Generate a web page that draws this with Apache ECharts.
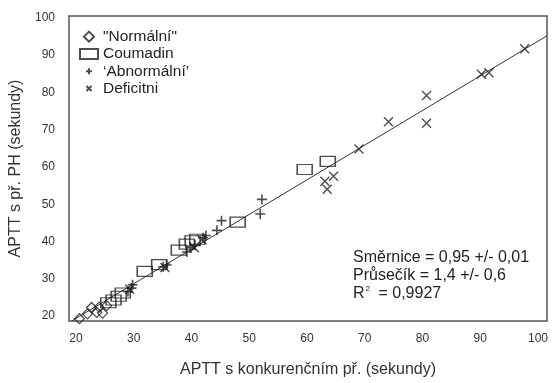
<!DOCTYPE html>
<html><head><meta charset="utf-8">
<script src="https://cdn.jsdelivr.net/npm/echarts@6/dist/echarts.min.js"></script>
<style>html,body{margin:0;padding:0;background:#fff}#c{width:557px;height:383px}</style>
</head><body><div id="c"></div>
<script>
const tickValues = [20, 30, 40, 50, 60, 70, 80, 90, 100];
const normalni = [[20.6,19.3],[22.0,20.6],[22.7,22.3],[23.6,21.0],[24.6,20.8],[25.3,22.8],[24.0,22.4]];
const coumadin = [[25.6,23.6],[26.5,24.3],[27.4,25.3],[28.1,26.2],[31.9,32.0],[34.4,33.8],[37.8,37.7],[39.2,39.3],[40.2,40.2],[41.0,40.6],[48.0,45.2],[59.6,59.3],[63.6,61.5]];
const abnormalni = [[29.0,26.6],[29.6,27.5],[29.8,28.4],[35.1,33.2],[35.7,33.7],[39.2,37.2],[39.8,38.5],[40.6,39.0],[42.0,41.0],[42.5,41.6],[44.4,43.0],[45.2,45.6],[51.9,47.4],[52.2,51.3]];
const deficitni = [[29.3,27.2],[35.4,33.0],[40.5,38.3],[41.8,40.5],[63.1,56.2],[63.5,54.0],[64.6,57.5],[69.0,64.8],[74.1,72.1],[80.7,79.2],[80.7,71.7],[90.2,84.9],[91.5,85.3],[97.7,91.7]];
const fitLine = [[19.26,18.68],[101.56,95.2]];
const seriesNames = ['"Normální"', 'Coumadin', '‘Abnormální’', 'Deficitni'];
const statsLines = ['Směrnice = 0,95 +/- 0,01', 'Průsečík = 1,4 +/- 0,6'];
const rSquared = '0,9927';

const FONT = '"Liberation Sans", Arial, sans-serif';
const INK = '#222';
const chart = echarts.init(document.getElementById('c'), null, {renderer: 'canvas'});
const hollow = {color: 'rgba(0,0,0,0)', borderColor: INK, borderWidth: 1.3};
const diamondPath = 'path://M5,0L10,5L5,10L0,5Z';
const plusPath = 'path://M5,0L5,10M0,5L10,5';
const crossPath = 'path://M0,0L10,10M10,0L0,10';
const legendPlus = 'path://M0,0M10,10M5,2L5,8M2,5L8,5';
const legendCross = 'path://M0,0M10,10M2.5,2.5L7.5,7.5M7.5,2.5L2.5,7.5';
chart.setOption({
  animation: false,
  backgroundColor: '#fff',
  textStyle: {fontFamily: FONT},
  grid: {left: 69, right: 10, top: 16, bottom: 58, show: true, borderColor: '#555', borderWidth: 1.5, backgroundColor: 'rgba(0,0,0,0)'},
  legend: {
    orient: 'vertical', left: 79, top: 28, padding: 0, itemWidth: 18, itemHeight: 10, itemGap: 0,
    symbolKeepAspect: true,
    data: [
      {name: seriesNames[0], icon: diamondPath},
      {name: seriesNames[1], icon: 'rect'},
      {name: seriesNames[2], icon: legendPlus},
      {name: seriesNames[3], icon: legendCross}
    ],
    textStyle: {fontFamily: FONT, fontSize: 15.5, lineHeight: 17.3, color: INK}
  },
  xAxis: {
    type: 'value', min: 18.79, max: 101.56,
    splitLine: {show: false}, axisTick: {show: false},
    axisLine: {show: false},
    axisLabel: {customValues: tickValues, fontSize: 12, color: '#333', margin: 12, fontFamily: FONT},
    name: 'APTT s konkurenčním př. (sekundy)', nameLocation: 'middle', nameGap: 41,
    nameTextStyle: {fontSize: 16, color: '#333', fontFamily: FONT}
  },
  yAxis: {
    type: 'value', min: 18.68, max: 100.5,
    splitLine: {show: false}, axisTick: {show: false},
    axisLine: {show: false},
    axisLabel: {customValues: tickValues, fontSize: 12, color: '#333', margin: 14, fontFamily: FONT},
    name: 'APTT s př. PH (sekundy)', nameLocation: 'middle', nameGap: 39,
    nameTextStyle: {fontSize: 16, color: '#333', fontFamily: FONT}
  },
  series: [
    {name: 'fit', type: 'line', data: fitLine, symbol: 'none', lineStyle: {color: '#333', width: 1}, z: 1, silent: true},
    {name: seriesNames[0], type: 'scatter', data: normalni, symbol: diamondPath, symbolKeepAspect: true, symbolSize: [10, 10], itemStyle: hollow},
    {name: seriesNames[1], type: 'scatter', data: coumadin, symbol: 'rect', symbolSize: [15, 10], itemStyle: hollow},
    {name: seriesNames[2], type: 'scatter', data: abnormalni, symbol: plusPath, symbolKeepAspect: true, symbolSize: [10, 10], itemStyle: {color: 'rgba(0,0,0,0)', borderColor: INK, borderWidth: 1.6}},
    {name: seriesNames[3], type: 'scatter', data: deficitni, symbol: crossPath, symbolKeepAspect: true, symbolSize: [9, 9], itemStyle: {color: 'rgba(0,0,0,0)', borderColor: INK, borderWidth: 1.4}}
  ],
  graphic: [{
    type: 'text', left: 353, top: 249,
    style: {
      text: statsLines[0] + '\n' + statsLines[1] + '\n{r|R}{sup|2}{r| = ' + rSquared + '}',
      font: '16px ' + FONT, fill: INK, lineHeight: 18,
      rich: {r: {fontSize: 16, fill: INK, fontFamily: FONT, lineHeight: 18}, sup: {fontSize: 8, verticalAlign: 'top', padding: [0, 4, 9, 1], fontFamily: FONT, lineHeight: 18}}
    }
  }]
});
</script></body></html>
